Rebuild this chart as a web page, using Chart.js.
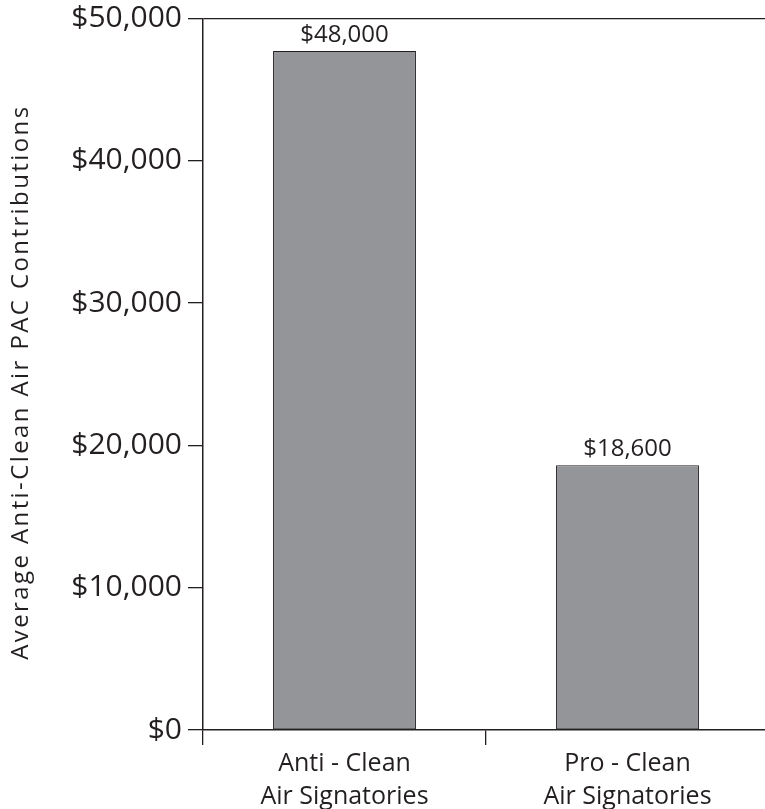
<!DOCTYPE html>
<html>
<head>
<meta charset="utf-8">
<script src="https://cdn.jsdelivr.net/npm/chart.js@4/dist/chart.umd.min.js"></script>
<style>
  html, body { margin: 0; padding: 0; background: #fff; overflow: hidden; }
  canvas { display: block; }
</style>
</head>
<body>
<canvas id="chart" width="769" height="809"></canvas>
<script>
const categories = [['Anti - Clean', 'Air Signatories'], ['Pro - Clean', 'Air Signatories']];
const contributions = [47700, 18600];
const valueLabels = ['$48,000', '$18,600'];
const yTicks = [0, 10000, 20000, 30000, 40000, 50000];
const yTitle = 'Average Anti-Clean Air PAC Contributions';

const FONT = '"Open Sans", "Noto Sans", sans-serif';
const INK = '#231f20';

// writes the dollar amount above each bar
const barLabels = {
  id: 'barLabels',
  afterDatasetsDraw(chart) {
    const ctx = chart.ctx;
    const meta = chart.getDatasetMeta(0);
    ctx.save();
    ctx.font = '24px ' + FONT;
    ctx.fillStyle = INK;
    ctx.textAlign = 'center';
    ctx.textBaseline = 'alphabetic';
    meta.data.forEach((bar, i) => {
      ctx.fillText(valueLabels[i], bar.x, bar.y - 9);
    });
    ctx.restore();
  }
};

// rotated axis title, a bit letter-spaced to get the width of the original face
const sideTitle = {
  id: 'sideTitle',
  afterDraw(chart) {
    const ctx = chart.ctx;
    const area = chart.chartArea;
    ctx.save();
    ctx.translate(21, (area.top + area.bottom) / 2 + 8);
    ctx.rotate(-Math.PI / 2);
    ctx.font = '24px ' + FONT;
    ctx.letterSpacing = '2.4px';
    ctx.fillStyle = INK;
    ctx.textAlign = 'center';
    ctx.textBaseline = 'middle';
    ctx.fillText(yTitle, 0, 0);
    ctx.restore();
  }
};

new Chart(document.getElementById('chart'), {
  type: 'bar',
  data: {
    labels: categories,
    datasets: [{
      data: contributions,
      backgroundColor: '#939598',
      borderColor: INK,
      borderWidth: 1,
      borderSkipped: false,
      barPercentage: 0.505,
      categoryPercentage: 1
    }]
  },
  options: {
    responsive: false,
    animation: false,
    layout: { padding: 0 },
    plugins: {
      legend: { display: false },
      tooltip: { enabled: false }
    },
    scales: {
      x: {
        offset: true,
        grid: {
          offset: true,
          drawOnChartArea: false,
          tickLength: 15,
          tickColor: INK,
          lineWidth: 1.3
        },
        border: { color: INK, width: 1.5 },
        ticks: {
          color: INK,
          padding: 2,
          font: { family: FONT, size: 25, lineHeight: 1.32 }
        },
        afterFit(scale) { scale.height = 79; }
      },
      y: {
        min: 0,
        max: 50000,
        afterBuildTicks(scale) { scale.ticks = yTicks.map(v => ({ value: v })); },
        grid: {
          color: ctx => (ctx.tick && ctx.tick.value === 50000 ? INK : 'rgba(0,0,0,0)'),
          tickColor: INK,
          tickLength: 15,
          lineWidth: 1.3
        },
        border: { color: INK, width: 1.5 },
        ticks: {
          color: INK,
          padding: 6,
          font: { family: FONT, size: 30, lineHeight: 0.82 },
          callback: v => '$' + v.toLocaleString('en-US')
        },
        afterFit(scale) { scale.width = 203; }
      }
    }
  },
  plugins: [barLabels, sideTitle]
});
</script>
</body>
</html>
